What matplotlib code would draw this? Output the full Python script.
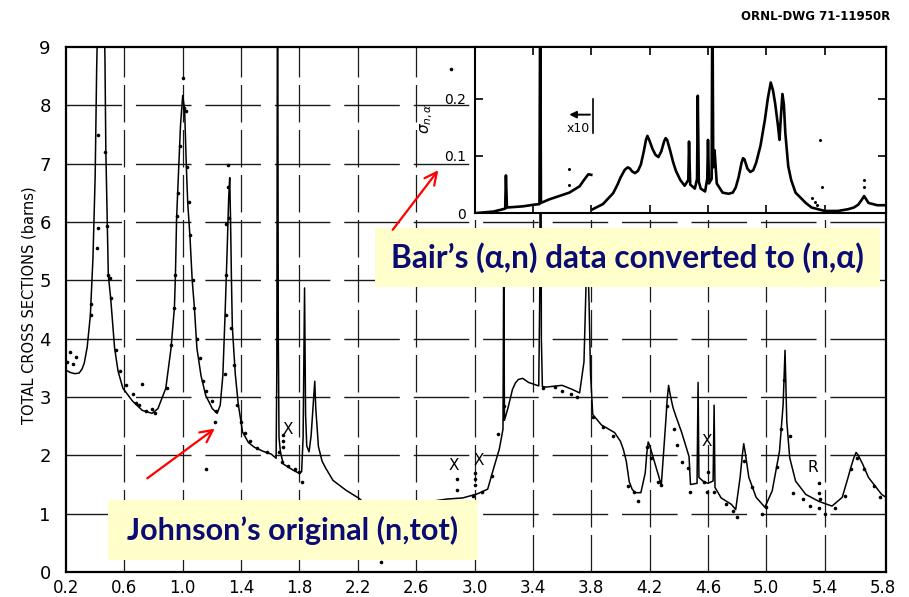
import matplotlib
matplotlib.use('Agg')
import matplotlib.pyplot as plt
from matplotlib.patches import Rectangle, FancyArrowPatch

W, H = 909, 597

# ---------------- data ----------------
# main total cross section curve (MeV, barns)
tot_x = [0.20, 0.23, 0.26, 0.29, 0.31, 0.325, 0.345, 0.367, 0.385, 0.400, 0.410, 0.425, 0.440, 0.455,
         0.467, 0.473, 0.483, 0.490, 0.506, 0.533, 0.557, 0.590, 0.656, 0.723, 0.790, 0.830, 0.884,
         0.920, 0.943, 0.950, 0.958, 0.972, 0.985, 1.000, 1.013, 1.025, 1.034, 1.050, 1.065, 1.080,
         1.097, 1.125, 1.157, 1.203, 1.236, 1.257, 1.275, 1.290, 1.305, 1.315, 1.322, 1.328, 1.334,
         1.340, 1.360, 1.380, 1.410, 1.450, 1.490, 1.550, 1.607, 1.640, 1.645, 1.650, 1.655, 1.660,
         1.670, 1.690, 1.760, 1.800, 1.815, 1.825, 1.835, 1.842, 1.850, 1.866, 1.880, 1.895, 1.905,
         1.912, 1.930, 1.955, 1.980, 2.030, 2.120, 2.210, 2.280, 2.330, 2.360, 2.375, 2.400, 2.500,
         2.600, 2.700, 2.810, 2.920, 3.020, 3.090, 3.130, 3.170, 3.195, 3.200, 3.205, 3.230, 3.260,
         3.280, 3.300, 3.330, 3.370, 3.440, 3.448, 3.452, 3.458, 3.465, 3.490, 3.600, 3.670, 3.720,
         3.750, 3.765, 3.775, 3.785, 3.795, 3.810, 3.870, 3.960, 4.000, 4.020, 4.040, 4.060, 4.080,
         4.100, 4.140, 4.170, 4.180, 4.190, 4.200, 4.220, 4.260, 4.280, 4.310, 4.320, 4.330, 4.340,
         4.360, 4.380, 4.420, 4.470, 4.480, 4.525, 4.532, 4.538, 4.570, 4.600, 4.635, 4.642, 4.648,
         4.690, 4.760, 4.790, 4.820, 4.835, 4.845, 4.855, 4.880, 4.930, 4.990, 5.040, 5.090, 5.115,
         5.128, 5.140, 5.160, 5.200, 5.270, 5.360, 5.450, 5.520, 5.560, 5.580, 5.600, 5.615, 5.630,
         5.660, 5.700, 5.790, 5.820]
tot_y = [3.46, 3.42, 3.40, 3.41, 3.48, 3.58, 3.85, 4.40, 5.40, 6.80, 8.60, 10.5, 12.0, 10.5,
         8.80, 7.23, 5.94, 5.09, 4.70, 3.84, 3.44, 3.15, 2.93, 2.77, 2.72, 2.80, 3.15,
         3.84, 4.53, 5.09, 6.07, 6.88, 7.67, 8.17, 7.92, 6.94, 6.34, 5.73, 5.00, 4.53,
         3.84, 3.37, 3.03, 2.80, 2.72, 2.86, 3.37, 4.40, 5.56, 6.42, 6.76, 6.00, 5.00,
         4.20, 3.40, 2.89, 2.40, 2.22, 2.14, 2.07, 2.02, 1.95, 3.50, 12.0, 4.00, 2.30,
         2.05, 1.85, 1.74, 1.69, 1.72, 2.30, 4.87, 2.70, 2.16, 2.06, 2.34, 2.90, 3.27,
         2.80, 2.15, 1.90, 1.78, 1.57, 1.40, 1.26, 1.10, 0.70, 0.22, 1.15, 1.05, 1.12,
         1.17, 1.21, 1.25, 1.27, 1.34, 1.42, 1.77, 2.11, 2.45, 5.50, 2.60, 2.82, 3.13,
         3.24, 3.30, 3.32, 3.25, 3.19, 5.00, 12.0, 4.00, 3.18, 3.17, 3.20, 3.13, 3.07,
         3.60, 5.00, 5.50, 4.60, 3.40, 2.70, 2.52, 2.39, 2.24, 2.10, 1.90, 1.55, 1.42,
         1.36, 1.36, 1.70, 2.02, 2.23, 2.17, 2.00, 1.66, 1.49, 2.56, 2.95, 3.20, 3.05,
         2.82, 2.67, 2.39, 1.98, 1.50, 1.52, 3.25, 1.62, 1.55, 1.52, 1.56, 2.86, 1.45,
         1.27, 1.16, 1.07, 1.62, 2.00, 2.20, 2.05, 1.62, 1.28, 1.11, 1.39, 2.07, 2.87,
         3.80, 2.58, 1.96, 1.56, 1.33, 1.21, 1.13, 1.28, 1.62, 1.80, 1.96, 2.05, 2.00,
         1.85, 1.62, 1.33, 1.28]

# measured points (MeV, barns)
dots_x = [0.21, 0.23, 0.25, 0.27, 0.37, 0.37, 0.41, 0.42, 0.42, 0.47, 0.48, 0.49, 0.50, 0.51, 0.54,
          0.57, 0.61, 0.66, 0.68, 0.70, 0.72, 0.75, 0.79, 0.81, 0.89, 0.92, 0.94, 0.945, 0.96, 0.97,
          0.98, 1.00, 1.01, 1.02, 1.03, 1.04, 1.05, 1.07, 1.08, 1.10, 1.12, 1.14, 1.16, 1.20, 1.23,
          1.22, 1.29, 1.30, 1.30, 1.30, 1.31, 1.31, 1.32, 1.33, 1.35, 1.37, 1.40, 1.43, 1.46, 1.51,
          1.58, 1.66, 1.68, 1.72, 1.77, 1.80, 1.685, 1.685, 1.685, 1.82, 1.16, 2.36, 2.84, 2.88,
          2.88, 3.00, 3.00, 3.00, 2.99, 3.05, 3.12, 3.16, 3.20, 3.47, 3.55, 3.60, 3.66, 3.70, 3.81,
          3.88, 3.95, 4.05, 4.09, 4.12, 4.18, 4.21, 4.26, 4.28, 4.32, 4.37, 4.39, 4.42, 4.46, 4.48,
          4.57, 4.60, 4.59, 4.64, 4.72, 4.77, 4.80, 4.85, 4.90, 4.97, 5.00, 5.07, 5.10, 5.12, 5.16,
          5.18, 5.25, 5.30, 5.36, 5.40, 5.47, 5.54, 5.58, 5.62, 5.67, 5.74, 5.78, 5.36, 5.36, 5.37]
dots_y = [3.60, 3.77, 3.56, 3.68, 4.40, 4.60, 5.56, 5.90, 7.50, 7.20, 5.94, 5.09, 5.04, 4.70, 3.80,
          3.44, 3.20, 3.06, 2.89, 2.86, 3.22, 2.76, 2.80, 2.72, 3.15, 3.90, 4.53, 5.10, 6.10, 6.50,
          7.30, 8.47, 7.95, 7.90, 6.94, 6.34, 5.78, 5.00, 4.53, 4.00, 3.67, 3.27, 3.10, 2.93, 2.76,
          2.58, 3.40, 4.40, 5.10, 5.96, 6.97, 6.60, 6.07, 4.18, 3.55, 2.86, 2.58, 2.38, 2.24, 2.12,
          2.06, 2.06, 1.89, 1.82, 1.77, 1.72, 2.35, 2.25, 2.15, 1.55, 1.77, 0.17, 8.62, 1.60,
          1.40, 1.70, 1.60, 1.50, 1.30, 1.37, 1.65, 2.37, 2.84, 3.15, 3.18, 3.10, 3.05, 3.00, 2.66,
          2.48, 2.33, 1.48, 1.37, 1.22, 2.14, 1.96, 1.55, 1.50, 2.85, 2.46, 2.17, 1.89, 1.78, 1.37,
          1.54, 1.72, 1.38, 1.38, 1.16, 1.05, 0.95, 1.90, 1.45, 1.00, 1.12, 1.80, 2.46, 3.30, 2.33,
          1.36, 1.25, 1.14, 1.09, 1.00, 1.09, 1.31, 1.77, 1.95, 1.77, 1.48, 1.28, 1.52, 1.36, 1.25]

# inset: (n,alpha) cross section, part below 3.8 MeV shown x10
na_lo_x = [3.00, 3.13, 3.21, 3.215, 3.222, 3.33, 3.41, 3.445, 3.450, 3.455, 3.51, 3.58, 3.65,
           3.72, 3.75, 3.78, 3.80]
na_lo_y = [0.000, 0.003, 0.008, 0.066, 0.010, 0.012, 0.015, 0.016, 0.40, 0.018, 0.024, 0.030,
           0.036, 0.047, 0.058, 0.068, 0.067]
na_hi_x = [3.81, 3.88, 3.95, 3.98, 4.00, 4.03, 4.05, 4.065, 4.08, 4.10, 4.12, 4.14, 4.16, 4.175,
           4.185, 4.20, 4.22, 4.24, 4.26, 4.28, 4.30, 4.31, 4.32, 4.34, 4.36, 4.38, 4.41, 4.44,
           4.465, 4.47, 4.478, 4.51, 4.525, 4.53, 4.537, 4.55, 4.58, 4.595, 4.60, 4.607, 4.625,
           4.630, 4.636, 4.645, 4.66, 4.70, 4.74, 4.77, 4.79, 4.81, 4.83, 4.84, 4.85, 4.87, 4.89,
           4.91, 4.93, 4.96, 4.99, 5.01, 5.03, 5.045, 5.06, 5.08, 5.09, 5.10, 5.11, 5.12, 5.13,
           5.15, 5.17, 5.20, 5.27, 5.31, 5.40, 5.49, 5.56, 5.60, 5.63, 5.655, 5.67, 5.685, 5.70,
           5.76, 5.82]
na_hi_y = [0.007, 0.016, 0.035, 0.050, 0.062, 0.076, 0.080, 0.078, 0.073, 0.070, 0.074, 0.085,
           0.108, 0.128, 0.135, 0.126, 0.112, 0.102, 0.098, 0.108, 0.126, 0.131, 0.128, 0.110,
           0.090, 0.074, 0.058, 0.048, 0.058, 0.125, 0.050, 0.043, 0.060, 0.205, 0.055, 0.043,
           0.038, 0.060, 0.128, 0.052, 0.060, 0.400, 0.080, 0.110, 0.052, 0.036, 0.034, 0.036,
           0.045, 0.063, 0.088, 0.096, 0.094, 0.078, 0.072, 0.075, 0.088, 0.118, 0.163, 0.200,
           0.228, 0.215, 0.192, 0.152, 0.128, 0.170, 0.208, 0.190, 0.140, 0.082, 0.058, 0.036,
           0.018, 0.010, 0.004, 0.004, 0.007, 0.010, 0.015, 0.024, 0.030, 0.024, 0.018, 0.014,
           0.014]
na_dots_x = [3.65, 3.65, 5.37, 5.38, 5.31, 5.33, 5.35, 5.67, 5.67]
na_dots_y = [0.078, 0.050, 0.128, 0.045, 0.027, 0.020, 0.015, 0.058, 0.046]

x_ticks = [0.2, 0.6, 1.0, 1.4, 1.8, 2.2, 2.6, 3.0, 3.4, 3.8, 4.2, 4.6, 5.0, 5.4, 5.8]
x_labels = ['0.2', '0.6', '1.0', '1.4', '1.8', '2.2', '2.6', '3.0', '3.4', '3.8', '4.2', '4.6',
            '5.0', '5.4', '5.8']
y_ticks = [0, 1, 2, 3, 4, 5, 6, 7, 8, 9]
y_labels = ['0', '1', '2', '3', '4', '5', '6', '7', '8', '9']
inset_x_ticks = [3.4, 3.8, 4.2, 4.6, 5.0, 5.4]
inset_y_ticks = [0, 0.1, 0.2]
inset_y_labels = ['0', '0.1', '0.2']

mark_text = ['X', 'X', 'X', 'X', 'R']
mark_x = [1.72, 2.86, 3.03, 4.59, 5.32]
mark_y = [2.45, 1.82, 1.91, 2.24, 1.80]

# ---------------- figure ----------------
fig = plt.figure(figsize=(W / 100, H / 100), dpi=100)
fig.patch.set_facecolor('white')

def fpx(px, py):
    return px / W, 1 - py / H

L, R, T, B = 66, 886, 47, 572
ax = fig.add_axes([L / W, 1 - B / H, (R - L) / W, (B - T) / H])
ax.set_xlim(0.2, 5.82)
ax.set_ylim(0, 9)

for yv in y_ticks[1:-1]:
    ax.axhline(yv, color='#1a1a1a', lw=1.0, dashes=(40, 10), zorder=1)
for xv in x_ticks[1:-1]:
    ax.axvline(xv, color='#1a1a1a', lw=0.9, dashes=(30, 6), zorder=1)

ax.plot(tot_x, tot_y, color='black', lw=1.1, zorder=3, solid_joinstyle='round')
ax.plot(dots_x, dots_y, 'o', color='black', ms=2.6, mec='none', zorder=4)

for t, xv, yv in zip(mark_text, mark_x, mark_y):
    ax.text(xv, yv, t, fontsize=11, ha='center', va='center', family='DejaVu Sans')

ax.set_xticks(x_ticks)
ax.set_xticklabels(x_labels, fontsize=12)
ax.set_yticks(y_ticks)
ax.set_yticklabels(y_labels, fontsize=13)
ax.tick_params(axis='x', length=0, pad=5)
ax.tick_params(axis='y', length=0, pad=11)
for s in ax.spines.values():
    s.set_linewidth(1.6)
ax.set_ylabel('TOTAL CROSS SECTIONS (barns)', fontsize=10.5)
ax.yaxis.set_label_coords((37 - L) / (R - L), (B - 305) / (B - T))

# inset
axin = ax.inset_axes([3.0, 6.15, 2.82, 2.85], transform=ax.transData)
axin.set_facecolor('white')
axin.set_xlim(3.0, 5.82)
axin.set_ylim(0, 0.29)
axin.plot(na_lo_x, na_lo_y, color='black', lw=1.9, solid_joinstyle='round')
axin.plot(na_hi_x, na_hi_y, color='black', lw=1.9, solid_joinstyle='round')
axin.plot(na_dots_x, na_dots_y, 'o', color='black', ms=2.2, mec='none')
axin.set_xticks(inset_x_ticks)
axin.set_xticklabels([])
axin.set_yticks(inset_y_ticks)
axin.set_yticklabels(inset_y_labels, fontsize=10)
axin.tick_params(direction='in', top=True, right=True, length=6, width=1.2, pad=6)
for s in axin.spines.values():
    s.set_linewidth(1.5)
axin.set_ylabel(r'$\sigma_{n,\alpha}$', fontsize=11)
axin.yaxis.set_label_coords(-0.095, 0.57)
# x10 marker
axin.plot([3.81, 3.81], [0.14, 0.20], color='black', lw=1.2)
axin.annotate('', xy=(3.63, 0.172), xytext=(3.81, 0.172),
              arrowprops=dict(arrowstyle='-|>', color='black', lw=1.4, mutation_scale=10))
axin.text(3.71, 0.147, 'x10', fontsize=9, ha='center', va='center')

# header
fig.text(890 / W, 1 - 17 / H, 'ORNL-DWG 71-11950R', fontsize=8.5, fontweight='bold',
         ha='right', va='center')

# callout boxes
navy = '#0b0b74'
box_col = '#ffffcc'
fam = ['Lato', 'Noto Sans', 'DejaVu Sans']

def callout(x0, y0, x1, y1, text, target_w):
    fig.patches.append(Rectangle(fpx(x0, y1), (x1 - x0) / W, (y1 - y0) / H,
                                 transform=fig.transFigure, facecolor=box_col,
                                 edgecolor='none', zorder=10))
    cx, cy = fpx((x0 + x1) / 2, (y0 + y1) / 2)
    t = fig.text(cx, cy, text, fontsize=20, fontweight='bold', color=navy, family=fam,
                 ha='center', va='center', zorder=11)
    r = fig.canvas.get_renderer()
    w = t.get_window_extent(r).width
    t.set_fontsize(20 * target_w / w)
    return t

callout(375, 228, 880, 287, 'Bair\u2019s (\u03b1,n) data converted to (n,\u03b1)', 475)
callout(108, 500, 478, 560, 'Johnson\u2019s original (n,tot)', 332)

def arrow(p0, p1):
    a = FancyArrowPatch(fpx(*p0), fpx(*p1), transform=fig.transFigure, arrowstyle='->',
                        mutation_scale=22, color='red', lw=1.6, zorder=12)
    fig.patches.append(a)

arrow((391, 232), (440, 168))
arrow((145, 480), (217, 427))

fig.savefig('out.png', dpi=100)
